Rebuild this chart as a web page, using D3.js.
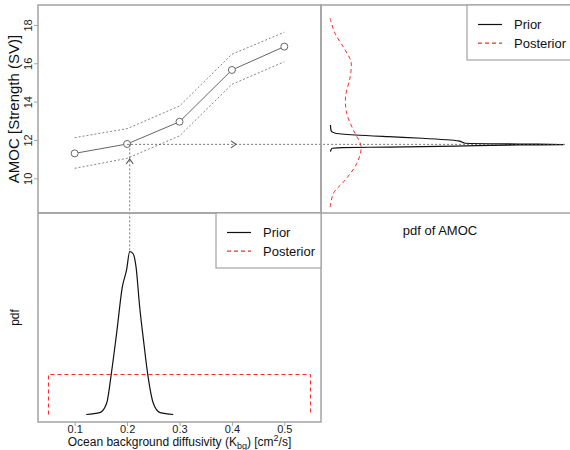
<!DOCTYPE html>
<html>
<head>
<meta charset="utf-8">
<script src="https://cdn.jsdelivr.net/npm/d3@7"></script>
<style>
  body { margin: 0; background: #fff; }
  svg { display: block; font-family: "Liberation Sans", Arial, sans-serif; }
</style>
</head>
<body>
<svg id="chart" width="570" height="450"></svg>
<script>
/* data */
const kbg = [0.1, 0.2, 0.3, 0.4, 0.5];
const amocMean = [11.30, 11.79, 12.95, 15.65, 16.87];
const amocUpper = [12.12, 12.59, 13.77, 16.47, 17.62];
const amocLower = [10.52, 11.04, 12.21, 14.90, 16.08];

// pdf of Kbg (bottom panel)
const kbgPriorX = [0.122, 0.148, 0.161, 0.170, 0.180, 0.191, 0.199, 0.205, 0.211, 0.217, 0.224, 0.232, 0.240, 0.250, 0.263, 0.288];
const kbgPriorD = [0, 0.09, 0.56, 2.06, 4.06, 6.39, 7.23, 8.14, 8.06, 7.39, 5.39, 3.56, 1.89, 0.56, 0.09, 0];
const kbgPostX = [0.05, 0.05, 0.55, 0.55];
const kbgPostD = [0, 2, 2, 0];

// pdf of AMOC (top right panel)
const amocPriorV = [12.78, 12.47, 12.35, 12.26, 12.17, 12.09, 11.95, 11.83, 11.79, 11.76, 11.74, 11.68, 11.63, 11.60, 11.56, 11.39];
const amocPriorD = [0.01, 0.03, 0.14, 0.65, 1.51, 2.37, 3.31, 3.48, 4.89, 6.0, 4.89, 3.23, 1.51, 0.31, 0.05, 0.01];
const amocPostV = [18.35, 17.56, 16.69, 16.08, 15.30, 14.26, 13.39, 12.52, 11.65, 10.78, 9.91, 9.22, 8.44];
const amocPostD = [0, 0.13, 0.39, 0.54, 0.52, 0.40, 0.43, 0.60, 0.80, 0.69, 0.39, 0.09, 0];

const obsKbg = 0.205, obsAmoc = 11.77;
const xTicks = [0.1, 0.2, 0.3, 0.4, 0.5];
const yTicks = [10, 12, 14, 16, 18];
const legendLabels = ["Prior", "Posterior"];

/* layout */
const pLeft = 38, pMid = 321, pRight = 604,
  pTop = 5, pMidY = 213, pBottom = 422,
  frame = "#a3a3a3", dots = "#555";

const svg = d3.select("#chart");

const x = d3.scaleLinear().domain([0.03, 0.57]).range([pLeft, pMid]);
const y = d3.scaleLinear().domain([8.19, 19.04]).range([pMidY, pTop]);
const yPdf = d3.scaleLinear().domain([-0.375, 10.075]).range([pBottom, pMidY]);
const xPdf = d3.scaleLinear().domain([-0.232, 7.056]).range([pMid, pRight]);

/* top-left: AMOC vs Kbg */
const tl = svg.append("g");
const lineK = d3.line().x(d => x(d[0])).y(d => y(d[1]));

[amocUpper, amocLower].forEach(arr => {
  tl.append("path")
    .attr("d", lineK(d3.zip(kbg, arr)))
    .attr("fill", "none")
    .attr("stroke", "#777")
    .attr("stroke-width", 0.9)
    .attr("stroke-dasharray", "2,2");
});

tl.append("path")
  .attr("d", lineK(d3.zip(kbg, amocMean)))
  .attr("fill", "none")
  .attr("stroke", "#666")
  .attr("stroke-width", 1);

tl.selectAll("circle")
  .data(d3.zip(kbg, amocMean))
  .join("circle")
  .attr("cx", d => x(d[0]))
  .attr("cy", d => y(d[1]))
  .attr("r", 3.5)
  .attr("fill", "#fff")
  .attr("stroke", "#666");

// y axis, rotated labels as in R
const yAxis = svg.append("g").attr("transform", `translate(${pLeft},0)`)
  .call(d3.axisLeft(y).tickValues(yTicks).tickSize(4).tickFormat(d3.format("d")));
yAxis.select(".domain").remove();
yAxis.selectAll("line").attr("stroke", frame);
yAxis.selectAll("text")
  .attr("x", 0).attr("y", 0).attr("dy", null)
  .attr("transform", "translate(-6,0) rotate(-90)")
  .attr("text-anchor", "middle")
  .attr("font-size", 11)
  .attr("fill", "#222");

svg.append("text")
  .attr("transform", `translate(19,${(pTop + pMidY) / 2}) rotate(-90)`)
  .attr("text-anchor", "middle")
  .attr("font-size", 15)
  .attr("fill", "#111")
  .text("AMOC [Strength (SV)]");

/* top-right: pdf of AMOC */
const tr = svg.append("g");
const lineA = d3.line().x(d => xPdf(d[1])).y(d => y(d[0]));

tr.append("path")
  .attr("d", lineA.curve(d3.curveCatmullRom)(d3.zip(amocPostV, amocPostD)))
  .attr("fill", "none")
  .attr("stroke", "#ff2a2a")
  .attr("stroke-width", 1)
  .attr("stroke-dasharray", "4,3");

tr.append("path")
  .attr("d", lineA.curve(d3.curveMonotoneY)(d3.zip(amocPriorV, amocPriorD)))
  .attr("fill", "none")
  .attr("stroke", "#111")
  .attr("stroke-width", 1.2);

svg.append("text")
  .attr("x", 440).attr("y", 235)
  .attr("text-anchor", "middle")
  .attr("font-size", 13)
  .attr("fill", "#111")
  .text("pdf of AMOC");

/* bottom-left: pdf of Kbg */
const bl = svg.append("g");
const lineP = d3.line().x(d => x(d[0])).y(d => yPdf(d[1]));

bl.append("path")
  .attr("d", lineP(d3.zip(kbgPostX, kbgPostD)))
  .attr("fill", "none")
  .attr("stroke", "#ff2a2a")
  .attr("stroke-width", 1)
  .attr("stroke-dasharray", "4,3");

bl.append("path")
  .attr("d", lineP.curve(d3.curveMonotoneX)(d3.zip(kbgPriorX, kbgPriorD)))
  .attr("fill", "none")
  .attr("stroke", "#111")
  .attr("stroke-width", 1.2);

const xAxis = svg.append("g").attr("transform", `translate(0,${pBottom})`)
  .call(d3.axisBottom(x).tickValues(xTicks).tickSize(4).tickFormat(d3.format(".1f")));
xAxis.select(".domain").remove();
xAxis.selectAll("line").attr("stroke", frame);
xAxis.selectAll("text")
  .attr("y", 3).attr("dy", "0.71em")
  .attr("font-size", 11)
  .attr("fill", "#222");

const xl = svg.append("text")
  .attr("x", (pLeft + pMid) / 2).attr("y", 446)
  .attr("text-anchor", "middle")
  .attr("font-size", 12)
  .attr("fill", "#111");
xl.append("tspan").text("Ocean background diffusivity (K");
xl.append("tspan").attr("font-size", 9).attr("dy", 3).text("bg");
xl.append("tspan").attr("dy", -3).text(") [cm");
xl.append("tspan").attr("font-size", 9).attr("dy", -5).text("2");
xl.append("tspan").attr("dy", 5).text("/s]");

svg.append("text")
  .attr("transform", `translate(19,${(pMidY + pBottom) / 2}) rotate(-90)`)
  .attr("text-anchor", "middle")
  .attr("font-size", 12)
  .attr("fill", "#111")
  .text("pdf");

/* guide lines from the observed Kbg to AMOC */
const guide = svg.append("g")
  .attr("fill", "none")
  .attr("stroke", dots)
  .attr("stroke-width", 0.8);

guide.append("line")
  .attr("x1", x(0.2)).attr("x2", 565)
  .attr("y1", y(obsAmoc)).attr("y2", y(obsAmoc))
  .attr("stroke-dasharray", "2,2");
guide.append("line")
  .attr("x1", x(obsKbg)).attr("x2", x(obsKbg))
  .attr("y1", y(obsAmoc)).attr("y2", yPdf(d3.max(kbgPriorD)))
  .attr("stroke-dasharray", "2,2");

// arrow heads
const ax = 235, ay = y(obsAmoc);
guide.append("path").attr("stroke-width", 1.1)
  .attr("d", `M${ax - 4},${ay - 3.5}L${ax + 1},${ay}L${ax - 4},${ay + 3.5}`);
const bx = x(obsKbg), by = 159;
guide.append("path").attr("stroke-width", 1.1)
  .attr("d", `M${bx - 3.5},${by + 5}L${bx},${by}L${bx + 3.5},${by + 5}`);

/* panel frames */
const frames = svg.append("g")
  .attr("fill", "none")
  .attr("stroke", frame)
  .attr("stroke-width", 1.5);
frames.append("rect").attr("x", pLeft).attr("y", pTop).attr("width", pMid - pLeft).attr("height", pMidY - pTop);
frames.append("rect").attr("x", pMid).attr("y", pTop).attr("width", pRight - pMid).attr("height", pMidY - pTop);
frames.append("rect").attr("x", pLeft).attr("y", pMidY).attr("width", pMid - pLeft).attr("height", pBottom - pMidY);

/* legends */
function legend(x0, y0, w) {
  const g = svg.append("g");
  g.append("rect")
    .attr("x", x0).attr("y", y0).attr("width", w).attr("height", 55)
    .attr("fill", "#fff")
    .attr("stroke", frame)
    .attr("stroke-width", 1.2);
  legendLabels.forEach((lab, i) => {
    const yy = y0 + 19.5 + i * 18.7;
    g.append("line")
      .attr("x1", x0 + 11).attr("x2", x0 + 35)
      .attr("y1", yy).attr("y2", yy)
      .attr("stroke", i === 0 ? "#111" : "#ff2a2a")
      .attr("stroke-width", 1.2)
      .attr("stroke-dasharray", i === 0 ? null : "4,3");
    g.append("text")
      .attr("x", x0 + 47).attr("y", yy).attr("dy", "0.36em")
      .attr("font-size", 13)
      .attr("fill", "#111")
      .text(lab);
  });
}
legend(467, pTop, 150);
legend(216, pMidY, pMid - 216);
</script>
</body>
</html>
